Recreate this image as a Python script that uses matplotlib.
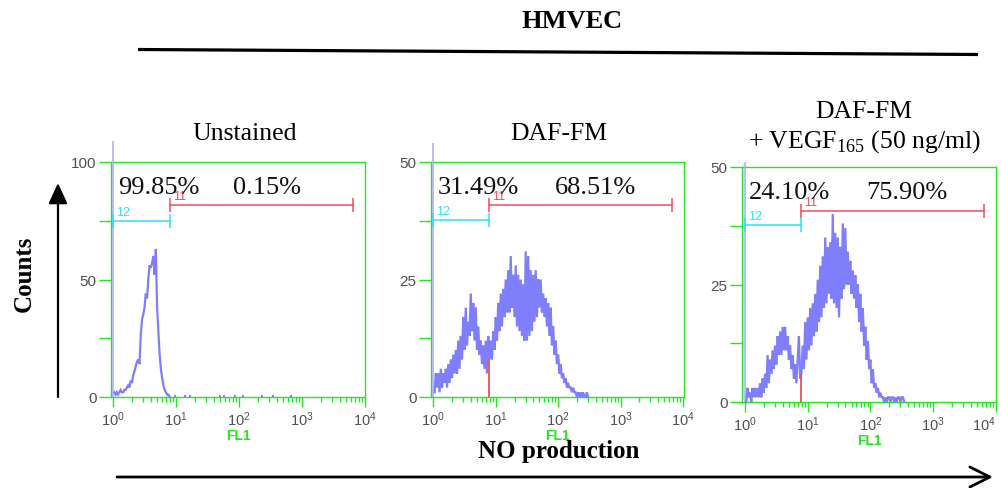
import numpy as np
import matplotlib
matplotlib.use("Agg")
import matplotlib.pyplot as plt
from matplotlib.ticker import FixedLocator, FixedFormatter, NullFormatter

plt.rcParams['font.family'] = ['Liberation Sans', 'DejaVu Sans']
plt.rcParams['mathtext.fontset'] = 'custom'
plt.rcParams['mathtext.rm'] = 'Liberation Serif'
plt.rcParams['mathtext.sf'] = 'Liberation Sans'

# ---------------- data ----------------
CHANNELS_PER_DECADE = 50          # log-channel resolution of the histograms

panel_titles = ["Unstained", "DAF-FM", "DAF-FM"]
panel_subtitle3 = r"+ VEGF$_{\mathrm{165}}$ (50 ng/ml)"
super_title = "HMVEC"
y_axis_label = "Counts"
x_axis_label = "NO production"
channel_label = "FL1"

y_max = [100, 50, 50]
y_major_ticks = [[0, 50, 100], [0, 25, 50], [0, 25, 50]]
y_minor_ticks = [[25, 75], [12.5, 37.5], [12.5, 37.5]]
x_decades = [1, 10, 100, 1000, 10000]
x_decade_labels = [r"$\mathsf{10^{0}}$", r"$\mathsf{10^{1}}$", r"$\mathsf{10^{2}}$",
                   r"$\mathsf{10^{3}}$", r"$\mathsf{10^{4}}$"]

pct_gate12 = ["99.85%", "31.49%", "24.10%"]
pct_gate11 = ["0.15%", "68.51%", "75.90%"]

gate12_range = [(1.0, 7.9), (1.0, 7.9), (1.0, 7.9)]
gate11_range = [(7.9, 6500), (7.9, 6600), (7.9, 6600)]
gate12_level = [75.0, 37.6, 37.7]
gate11_level = [81.7, 40.9, 40.7]

# counts per channel (channel i sits at 10**(i/CHANNELS_PER_DECADE));
# channel 0 holds the off-scale pile-up
counts_unstained = [109, 2, 1, 2, 1, 2, 3, 2, 2, 3, 3, 4, 5, 4, 7, 6, 9, 11, 13, 15,
                    16, 14, 26, 33, 35, 38, 44, 42, 50, 56, 55, 57, 60, 52, 63, 38,
                    28, 18, 12, 8, 5, 3, 2, 1, 1, 0]
sparse_unstained_channels = [49, 57, 61, 85, 88, 97, 103, 118, 127, 141]
sparse_unstained_counts = [1, 1, 1, 1, 1, 1, 1, 1, 1, 1]

counts_daf = [54, 1, 5, 2, 5, 1, 6, 2, 5, 3, 6, 2, 7, 3, 8, 4, 9, 5, 10, 5,
              12, 6, 13, 8, 17, 10, 19, 11, 16, 13, 22, 14, 20, 12, 19, 10, 15, 9, 12, 7,
              11, 6, 12, 5, 13, 8, 12, 8, 14, 10, 17, 12, 20, 14, 22, 15, 23, 17, 25, 18,
              27, 18, 30, 19, 26, 17, 28, 15, 26, 14, 25, 13, 24, 12, 31, 12, 30, 13, 27, 14,
              26, 16, 27, 17, 25, 19, 25, 18, 22, 17, 21, 15, 20, 13, 19, 11, 15, 9, 12, 7,
              9, 5, 7, 4, 5, 3, 4, 2, 3, 2, 2, 1, 2, 1, 1, 0, 1, 0, 1, 0,
              1, 0, 0, 1, 0]

counts_daf_vegf = [51, 0, 3, 1, 2, 0, 3, 1, 3, 1, 3, 1, 4, 1, 5, 2, 6, 3, 10, 4,
                   9, 6, 11, 7, 12, 8, 14, 10, 15, 10, 16, 11, 16, 11, 14, 9, 12, 7, 10, 5,
                   8, 4, 9, 14, 5, 6, 12, 7, 17, 9, 18, 11, 20, 12, 21, 14, 23, 15, 26, 17,
                   29, 18, 31, 20, 35, 21, 33, 23, 34, 22, 40, 21, 36, 20, 35, 18, 33, 22, 38, 24,
                   37, 25, 32, 25, 30, 23, 28, 22, 27, 20, 25, 17, 23, 15, 20, 12, 16, 9, 13, 7,
                   9, 4, 7, 3, 4, 2, 3, 1, 2, 1, 1, 0, 1, 0, 1, 1, 0, 1, 1, 0,
                   1, 0, 1, 1, 0, 1, 1, 0]

panel_counts = [counts_unstained, counts_daf, counts_daf_vegf]

# ---------------- styles ----------------
GREEN = "#22e622"
HIST = "#7f7ffc"
HIST0 = "#a9a9ff"
RED = "#e8505a"
CYAN = "#30dcff"
TICKGRAY = "#505050"
SERIF = "Liberation Serif"

W, H = 1002, 489
fig = plt.figure(figsize=(W / 100, H / 100), dpi=100)

# axes boxes in pixels: left, top, right, bottom
boxes = [(111, 163, 365, 398), (431, 163, 684, 398), (742, 168, 996, 403)]
xlims = [(10 ** -0.032, 10 ** 4.0), (10 ** -0.037, 10 ** 4.016), (10 ** -0.048, 10 ** 4.004)]

axes = []
for k, (l, t, r, b) in enumerate(boxes):
    ax = fig.add_axes([l / W, 1 - b / H, (r - l) / W, (b - t) / H])
    axes.append(ax)
    ax.set_xscale('log')
    ax.set_xlim(*xlims[k])
    ax.set_ylim(0, y_max[k])
    for s in ax.spines.values():
        s.set_color(GREEN)
        s.set_linewidth(1.0)

    counts = list(panel_counts[k])
    x = 10 ** (np.arange(len(counts)) / CHANNELS_PER_DECADE)
    # off-scale pile-up in the first channel
    ax.vlines([x[0]], 0, counts[0], color=HIST0, lw=1.1, clip_on=False, zorder=3)
    ax.plot(x[1:], counts[1:], color=HIST, lw=1.6, clip_on=False, zorder=3,
            solid_joinstyle='miter')
    if k == 0:
        xs = 10 ** (np.array(sparse_unstained_channels) / CHANNELS_PER_DECADE)
        ax.vlines(xs, 0, sparse_unstained_counts, color=HIST, lw=1.4, zorder=3)

    # gate boundary channel drawn in red
    lo11, hi11 = gate11_range[k]
    ch = int(round(np.log10(lo11) * CHANNELS_PER_DECADE))
    if ch < len(counts) and counts[ch] > 0:
        ax.vlines([lo11], 0, counts[ch], color=RED, lw=1.3, zorder=4)

    # gates
    lo12, hi12 = gate12_range[k]
    ax.plot([lo12, hi12], [gate12_level[k]] * 2, color=CYAN, lw=1.1,
            marker='|', ms=9.5, mew=1.1, zorder=5)
    ax.plot([lo11, hi11], [gate11_level[k]] * 2, color=RED, lw=1.1,
            marker='|', ms=9.5, mew=1.1, zorder=5)
    ax.annotate("12", xy=(lo12, gate12_level[k]), xytext=(3, 3), textcoords='offset pixels',
                color=CYAN, fontsize=9, ha='left', va='bottom')
    ax.annotate("11", xy=(lo11, gate11_level[k]), xytext=(3, 3), textcoords='offset pixels',
                color=RED, fontsize=9, ha='left', va='bottom')

    # percentages
    ax.text(0.027, 0.868, pct_gate12[k], transform=ax.transAxes, family=SERIF,
            fontsize=19, ha='left', va='baseline', color='#111111', zorder=6)
    ax.text(0.49 if k > 0 else 0.48, 0.868, pct_gate11[k], transform=ax.transAxes, family=SERIF,
            fontsize=19, ha='left', va='baseline', color='#111111', zorder=6)

    # ticks
    ax.xaxis.set_major_locator(FixedLocator(x_decades))
    ax.xaxis.set_major_formatter(FixedFormatter(x_decade_labels))
    minors = [m * d for d in x_decades[:-1] for m in range(2, 10)]
    ax.xaxis.set_minor_locator(FixedLocator(minors))
    ax.xaxis.set_minor_formatter(NullFormatter())
    ax.yaxis.set_major_locator(FixedLocator(y_major_ticks[k]))
    ax.yaxis.set_minor_locator(FixedLocator(y_minor_ticks[k]))
    ax.tick_params(axis='x', which='major', direction='out', length=7, width=1,
                   color=GREEN, labelcolor=TICKGRAY, labelsize=10.5, pad=2)
    ax.tick_params(axis='x', which='minor', direction='out', length=3.5, width=1, color=GREEN)
    ax.tick_params(axis='y', which='both', direction='out', length=8.5, width=1,
                   color=GREEN, labelcolor=TICKGRAY, labelsize=11, pad=2)
    ax.set_xlabel(channel_label, color=GREEN, fontsize=10, fontweight='bold', labelpad=0)

# keep the last decade label of the right panel inside the figure
fig.canvas.draw()
last = axes[2].get_xticklabels()[-1]
last.set_horizontalalignment('right')
last.set_x(10 ** 4.06)

# ---------------- figure-level annotations ----------------
ov = fig.add_axes([0, 0, 1, 1], zorder=-1)
ov.set_xlim(0, W)
ov.set_ylim(H, 0)
ov.axis('off')

ov.text(572, 28, super_title, family=SERIF, fontsize=19, fontweight='bold',
        ha='center', va='baseline')
ov.plot([138, 978], [50.5, 55.5], color='black', lw=2.3, solid_capstyle='butt')

ov.text(245, 140, panel_titles[0], family=SERIF, fontsize=18.5, ha='center', va='baseline')
ov.text(559, 140, panel_titles[1], family=SERIF, fontsize=18.5, ha='center', va='baseline')
ov.text(864, 118, panel_titles[2], family=SERIF, fontsize=18.5, ha='center', va='baseline')
ov.text(864, 148, panel_subtitle3, family=SERIF, fontsize=18.5, ha='center', va='baseline')

ov.text(24, 274, y_axis_label, family=SERIF, fontsize=18, fontweight='bold',
        rotation=90, ha='center', va='center')
ov.annotate('', xy=(58, 184), xytext=(58, 398),
            arrowprops=dict(arrowstyle='-|>,head_length=0.7,head_width=0.32',
                            lw=1.6, color='black', mutation_scale=18,
                            shrinkA=0, shrinkB=0))

ov.text(559, 458, x_axis_label, family=SERIF, fontsize=18, fontweight='bold',
        ha='center', va='baseline')
ov.annotate('', xy=(993, 478), xytext=(117, 478),
            arrowprops=dict(arrowstyle='->,head_length=0.8,head_width=0.4',
                            lw=2.0, color='black', mutation_scale=18,
                            shrinkA=0, shrinkB=0))

fig.savefig("out.png", dpi=100)
